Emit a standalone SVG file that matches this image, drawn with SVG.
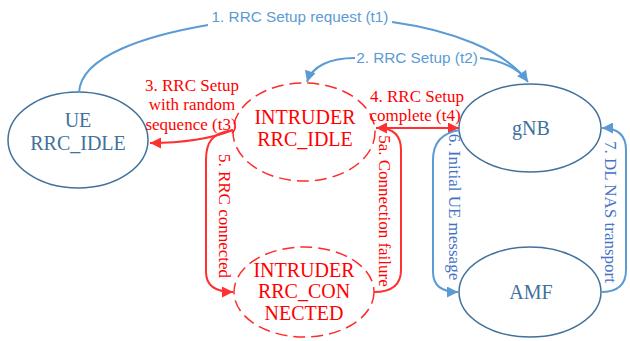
<svg xmlns="http://www.w3.org/2000/svg" width="630" height="341" viewBox="0 0 630 341">
<style>
.nb{fill:#fff;stroke:#41719C;stroke-width:1.5}
.nr{fill:#fff;stroke:#FF2A2A;stroke-width:1.5;stroke-dasharray:12 6}
.tb{font-family:"Liberation Serif",serif;font-size:20px;fill:#41719C;text-anchor:middle}
.tr{font-family:"Liberation Serif",serif;font-size:20px;fill:#FF0000;text-anchor:middle}
.eb{fill:none;stroke:#5B9BD5;stroke-width:2}
.er{fill:none;stroke:#FF3030;stroke-width:2}
.lb{font-family:"Liberation Sans",Arial,sans-serif;font-size:15.3px;fill:#5B9BD5;text-anchor:middle}
.lb2{font-family:"Liberation Serif",serif;font-size:17px;fill:#4472C4;text-anchor:middle}
.lr{font-family:"Liberation Serif",serif;font-size:17px;fill:#FF0000;text-anchor:middle}
</style>
<defs>
<marker id="ab" viewBox="0 0 10 10" refX="10" refY="5" markerWidth="13" markerHeight="11" markerUnits="userSpaceOnUse" orient="auto-start-reverse"><path d="M0,0 L10,5 L0,10 z" fill="#5B9BD5"/></marker>
<marker id="ar" viewBox="0 0 10 10" refX="10" refY="5" markerWidth="13" markerHeight="11" markerUnits="userSpaceOnUse" orient="auto-start-reverse"><path d="M0,0 L10,5 L0,10 z" fill="#FF3030"/></marker>
</defs>
<g id="ue"><ellipse class="nb" cx="78" cy="140" rx="70" ry="48"/><text class="tb" x="78" y="127">UE</text><text class="tb" x="78" y="150">RRC_IDLE</text></g>
<g id="intruder-idle"><ellipse class="nr" cx="304" cy="132" rx="71" ry="49"/><text class="tr" x="305" y="124">INTRUDER</text><text class="tr" x="305" y="146">RRC_IDLE</text></g>
<g id="intruder-connected"><ellipse class="nr" cx="304" cy="292" rx="70" ry="45"/><text class="tr" x="304" y="277">INTRUDER</text><text class="tr" x="304" y="298">RRC_CON</text><text class="tr" x="304" y="320">NECTED</text></g>
<g id="gnb"><ellipse class="nb" cx="530" cy="128" rx="71" ry="44"/><text class="tb" x="531" y="135">gNB</text></g>
<g id="amf"><ellipse class="nb" cx="530" cy="292" rx="71" ry="45"/><text class="tb" x="531" y="299">AMF</text></g>
<g id="connectors">
<path class="eb" d="M79 93 C80 55 150 35 208 25"/>
<path class="eb" d="M392 22 C450 30 505 50 528 82" marker-end="url(#ab)"/>
<text class="lb" x="300" y="22">1. RRC Setup request (t1)</text>
<path class="eb" d="M527 80 C515 66 500 60 480 58"/>
<path class="eb" d="M355 58 C330 58 312 66 307 82" marker-end="url(#ab)"/>
<text class="lb" x="417" y="63">2. RRC Setup (t2)</text>
<path class="er" d="M233 130 Q200 143 150 143" marker-end="url(#ar)"/>
<text class="lr" x="192" y="91">3. RRC Setup</text>
<text class="lr" x="192" y="110">with random</text>
<text class="lr" x="191" y="130">sequence (t3)</text>
<path class="er" d="M376 128 L459 128" marker-start="url(#ar)" marker-end="url(#ar)"/>
<text class="lr" x="417" y="102">4. RRC Setup</text>
<text class="lr" x="415" y="121">complete (t4)</text>
<path class="er" d="M233 130 C212 133 206 142 206 160 L206 272 Q206 292 233 292" marker-end="url(#ar)"/>
<text class="lr" transform="translate(219 216) rotate(90)">5. RRC connected</text>
<path class="er" d="M374 292 Q401 292 401 270 L401 150 Q401 128 378 128"/>
<text class="lr" transform="translate(379 211) rotate(90)">5a. Connection failure</text>
<path class="eb" d="M460 130 Q433 134 433 160 L433 272 Q433 292 458 292" marker-end="url(#ab)"/>
<text class="lb2" transform="translate(449 207) rotate(90)">6. Initial UE message</text>
<path class="eb" d="M601 292 Q626 292 626 270 L626 150 Q626 128 602 128" marker-end="url(#ab)"/>
<text class="lb2" transform="translate(605 212) rotate(90)">7. DL NAS transport</text>
</g>
</svg>
